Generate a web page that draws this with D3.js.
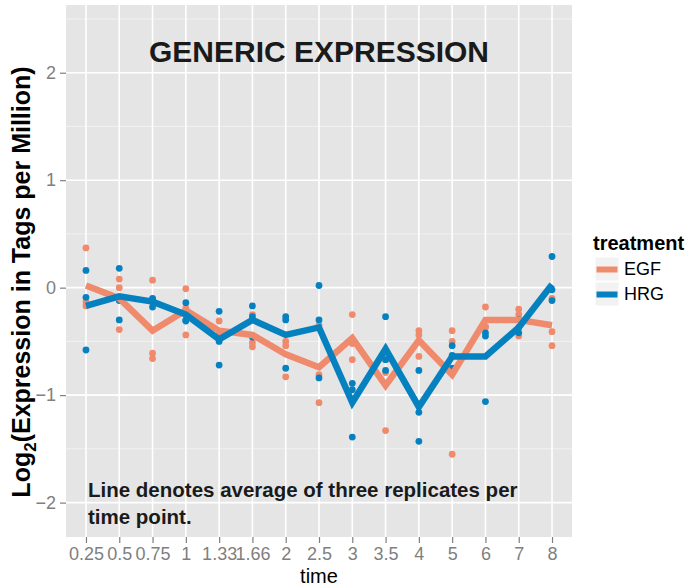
<!DOCTYPE html>
<html>
<head>
<meta charset="utf-8">
<script src="https://cdn.jsdelivr.net/npm/d3@7"></script>
<style>
body { margin: 0; background: #fff; }
text { font-family: "Liberation Sans", Arial, sans-serif; }
</style>
</head>
<body>
<svg id="chart"></svg>
<script>
var times = ['0.25', '0.5', '0.75', '1', '1.33', '1.66', '2', '2.5', '3', '3.5', '4', '5', '6', '7', '8'];
var yTicks = [-2, -1, 0, 1, 2];
var yMinor = [-1.5, -0.5, 0.5, 1.5, 2.5];
var treatments = ['EGF', 'HRG'];
var colors = ['#f08a6d', '#0681c0'];

// average of the three replicates, as drawn
var egfMean = [0.02, -0.10, -0.40, -0.21, -0.40, -0.44, -0.62, -0.74, -0.47, -0.91, -0.49, -0.81, -0.30, -0.30, -0.35];
var hrgMean = [-0.17, -0.08, -0.13, -0.25, -0.48, -0.30, -0.44, -0.37, -1.07, -0.57, -1.11, -0.64, -0.64, -0.37, 0.03];

// replicates
var egfRep1 = [0.37, 0.08, 0.07, -0.01, -0.31, -0.25, -0.50, -0.35, -0.25, -0.67, -0.40, -0.40, -0.18, -0.20, -0.10];
var egfRep2 = [-0.13, 0.00, -0.61, -0.19, -0.44, -0.51, -0.54, -0.81, -0.52, -0.79, -0.44, -0.50, -0.36, -0.25, -0.41];
var egfRep3 = [-0.17, -0.39, -0.66, -0.44, -0.45, -0.55, -0.83, -1.07, -0.67, -1.33, -0.64, -1.55, -0.37, -0.45, -0.54];
var hrgRep1 = [0.16, 0.18, -0.10, -0.14, -0.22, -0.17, -0.27, 0.02, -0.89, -0.27, -0.77, -0.54, -0.42, -0.30, 0.29];
var hrgRep2 = [-0.09, -0.12, -0.11, -0.30, -0.50, -0.27, -0.30, -0.30, -0.95, -0.67, -1.16, -0.63, -0.45, -0.37, -0.02];
var hrgRep3 = [-0.58, -0.30, -0.18, -0.31, -0.72, -0.46, -0.75, -0.84, -1.39, -0.77, -1.43, -0.75, -1.06, -0.42, -0.12];

var panel = { left: 66, right: 572, top: 5, bottom: 537 };

var svg = d3.select('svg#chart')
    .attr('width', 690)
    .attr('height', 586) ;

var x = d3.scalePoint()
    .domain(times)
    .range([panel.left, panel.right])
    .padding(0.6) ;

var y = d3.scaleLinear()
    .domain([-2.32, 2.63])
    .range([panel.bottom, panel.top]) ;

var color = d3.scaleOrdinal()
    .domain(treatments)
    .range(colors) ;

// panel + grid
svg.append('rect')
    .attr('x', panel.left)
    .attr('y', panel.top)
    .attr('width', panel.right - panel.left)
    .attr('height', panel.bottom - panel.top)
    .attr('fill', '#e5e5e5') ;

svg.append('g').selectAll('line')
    .data(yMinor)
    .enter().append('line')
    .attr('x1', panel.left)
    .attr('x2', panel.right)
    .attr('y1', function (d) { return y(d); })
    .attr('y2', function (d) { return y(d); })
    .attr('stroke', '#f2f2f2')
    .attr('stroke-width', 1) ;

svg.append('g').selectAll('line')
    .data(yTicks)
    .enter().append('line')
    .attr('x1', panel.left)
    .attr('x2', panel.right)
    .attr('y1', function (d) { return y(d); })
    .attr('y2', function (d) { return y(d); })
    .attr('stroke', '#fff')
    .attr('stroke-width', 1.6) ;

svg.append('g').selectAll('line')
    .data(times)
    .enter().append('line')
    .attr('x1', function (d) { return x(d); })
    .attr('x2', function (d) { return x(d); })
    .attr('y1', panel.top)
    .attr('y2', panel.bottom)
    .attr('stroke', '#fff')
    .attr('stroke-width', 1.6) ;

// axes
var xAxis = svg.append('g')
    .attr('transform', 'translate(0,' + panel.bottom + ')')
    .call(d3.axisBottom(x).tickSize(6).tickPadding(4)) ;

var yAxis = svg.append('g')
    .attr('transform', 'translate(' + panel.left + ',0)')
    .call(d3.axisLeft(y).tickValues(yTicks).tickSize(6).tickPadding(4)
        .tickFormat(function (d) { return d < 0 ? '\u2212' + Math.abs(d) : d; })) ;

[xAxis, yAxis].forEach(function (a) {
    a.select('.domain').remove();
    a.selectAll('line').attr('stroke', '#7f7f7f').attr('stroke-width', 1.2);
    a.selectAll('text')
        .attr('fill', '#7f7f7f')
        .style('font-size', '18px')
        .style('font-family', '"Liberation Sans", Arial, sans-serif');
});

// points
var series = [
    { name: 'EGF', mean: egfMean, reps: [egfRep1, egfRep2, egfRep3] },
    { name: 'HRG', mean: hrgMean, reps: [hrgRep1, hrgRep2, hrgRep3] },
];

series.forEach(function (s) {
    var pts = [];
    s.reps.forEach(function (r) {
        r.forEach(function (v, i) { pts.push({ t: times[i], v: v }); });
    });
    svg.append('g').selectAll('circle')
        .data(pts)
        .enter().append('circle')
        .attr('cx', function (d) { return x(d.t); })
        .attr('cy', function (d) { return y(d.v); })
        .attr('r', 3.4)
        .attr('fill', color(s.name)) ;
});

var line = d3.line()
    .x(function (d, i) { return x(times[i]); })
    .y(function (d) { return y(d); }) ;

series.forEach(function (s) {
    svg.append('path')
        .datum(s.mean)
        .attr('d', line)
        .attr('fill', 'none')
        .attr('stroke', color(s.name))
        .attr('stroke-width', 6.5)
        .attr('stroke-linejoin', 'miter') ;
});

// texts
svg.append('text')
    .attr('x', (panel.left + panel.right) / 2)
    .attr('y', 62)
    .attr('text-anchor', 'middle')
    .style('font-size', '30px')
    .style('font-weight', 'bold')
    .attr('fill', '#1a1a1a')
    .text('GENERIC EXPRESSION') ;

var note = svg.append('text')
    .style('font-size', '20.5px')
    .style('font-weight', 'bold')
    .attr('fill', '#1a1a1a') ;
note.append('tspan').attr('x', 88).attr('y', 497).text('Line denotes average of three replicates per');
note.append('tspan').attr('x', 88).attr('y', 524).text('time point.');

svg.append('text')
    .attr('x', (panel.left + panel.right) / 2)
    .attr('y', 583)
    .attr('text-anchor', 'middle')
    .style('font-size', '20px')
    .attr('fill', '#000')
    .text('time') ;

var yLab = svg.append('text')
    .attr('transform', 'translate(30,' + 282 + ') rotate(-90)')
    .attr('text-anchor', 'middle')
    .style('font-size', '25px')
    .style('font-weight', 'bold')
    .attr('fill', '#000') ;
yLab.append('tspan').text('Log');
yLab.append('tspan').attr('dy', 6).style('font-size', '17px').text('2');
yLab.append('tspan').attr('dy', -6).text('(Expression in Tags per Million)');

// legend
var legend = svg.append('g')
    .attr('transform', 'translate(593,0)') ;

legend.append('text')
    .attr('x', 0)
    .attr('y', 250)
    .style('font-size', '20px')
    .style('font-weight', 'bold')
    .attr('fill', '#000')
    .text('treatment') ;

var keys = legend.selectAll('g.key')
    .data(treatments)
    .enter().append('g')
    .classed('key', true)
    .attr('transform', function (d, i) { return 'translate(2,' + (257 + 25 * i) + ')'; }) ;

keys.append('rect')
    .attr('width', 24)
    .attr('height', 24)
    .attr('fill', '#f2f2f2')
    .attr('stroke', '#fff')
    .attr('stroke-width', 1) ;

keys.append('line')
    .attr('x1', 1.5)
    .attr('x2', 22.5)
    .attr('y1', 12.5)
    .attr('y2', 12.5)
    .attr('stroke', function (d) { return color(d); })
    .attr('stroke-width', 6) ;

keys.append('text')
    .attr('x', 29)
    .attr('y', 12)
    .attr('dy', '0.35em')
    .style('font-size', '18px')
    .attr('fill', '#000')
    .text(function (d) { return d; }) ;
</script>
</body>
</html>
